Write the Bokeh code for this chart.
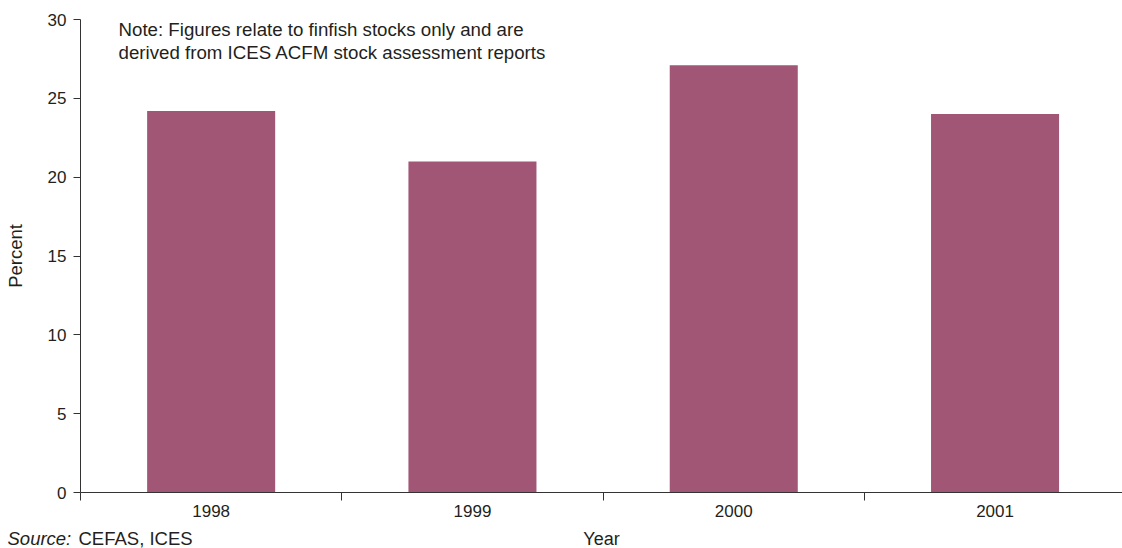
from bokeh.plotting import figure
from bokeh.models import Range1d, FixedTicker, Label
from bokeh.embed import file_html
from bokeh.resources import INLINE

# ---- data ----
years = [1998, 1999, 2000, 2001]
percent = [24.2, 21.0, 27.1, 24.0]
y_ticks = [0, 5, 10, 15, 20, 25, 30]
y_max = 30
note_lines = ["Note: Figures relate to finfish stocks only and are",
              "derived from ICES ACFM stock assessment reports"]
source_label = "Source:"
source_text = "CEFAS, ICES"

# ---- layout (pixels) ----
W, H = 1122, 548
AXIS_X_PX = 80          # where the y axis sits
TOP_PX = 19             # where y = 30 sits
ZERO_PX = 492           # where y = 0 sits
PX_PER_YEAR = 261.3
px_per_unit = (ZERO_PX - TOP_PX) / y_max

FONT = "Liberation Sans"
TXT = "#231f20"
AX = "#333333"
BAR = "#a15676"

x_lo = years[0] - 0.5
x_start = x_lo - AXIS_X_PX / PX_PER_YEAR
x_end = x_start + W / PX_PER_YEAR
y_end = y_max + TOP_PX / px_per_unit
y_start = -(H - ZERO_PX) / px_per_unit

p = figure(width=W, height=H, output_backend="svg", toolbar_location=None,
           x_range=Range1d(x_start, x_end), y_range=Range1d(y_start, y_end),
           min_border=0, min_border_left=0, min_border_right=0,
           min_border_top=0, min_border_bottom=0)
p.outline_line_color = None
p.grid.visible = False

p.vbar(x=years, top=percent, bottom=0, width=0.49, fill_color=BAR, line_color=None)

# x axis, pinned at y = 0
xa = p.xaxis[0]
xa.fixed_location = 0
xa.bounds = (x_lo, x_end)
xa.ticker = FixedTicker(ticks=years, minor_ticks=[y - 0.5 for y in years] + [years[-1] + 0.5])
xa.major_tick_line_color = None
xa.major_tick_out = 0
xa.major_tick_in = 0
xa.minor_tick_out = 8
xa.minor_tick_in = 0
xa.minor_tick_line_color = AX
xa.axis_line_color = AX
xa.major_label_standoff = 4
xa.major_label_text_font = FONT
xa.major_label_text_font_size = "17px"
xa.major_label_text_color = TXT
xa.axis_label = "Year"
xa.axis_label_text_font = FONT
xa.axis_label_text_font_size = "18px"
xa.axis_label_text_font_style = "normal"
xa.axis_label_text_color = TXT
xa.axis_label_standoff = 9

# y axis, pinned at the left category edge
ya = p.yaxis[0]
ya.fixed_location = x_lo
ya.bounds = (0, y_max)
ya.ticker = FixedTicker(ticks=y_ticks)
ya.major_tick_out = 7
ya.major_tick_in = 0
ya.minor_tick_line_color = None
ya.major_tick_line_color = AX
ya.axis_line_color = AX
ya.major_label_standoff = 7
ya.major_label_text_font = FONT
ya.major_label_text_font_size = "17px"
ya.major_label_text_color = TXT
ya.axis_label = "Percent"
ya.axis_label_text_font = FONT
ya.axis_label_text_font_size = "18.5px"
ya.axis_label_text_font_style = "normal"
ya.axis_label_text_color = TXT
ya.axis_label_standoff = 19

# note (screen units: from frame bottom-left, frame = whole canvas)
for i, line in enumerate(note_lines):
    p.add_layout(Label(x=118, y=H - 29 - 23 * i, x_units="screen", y_units="screen",
                       text=line, text_font=FONT, text_font_size="18.7px",
                       text_color=TXT, text_baseline="alphabetic", text_align="left"))

# source
p.add_layout(Label(x=7, y=H - 538, x_units="screen", y_units="screen",
                   text=source_label, text_font=FONT, text_font_size="18.5px",
                   text_font_style="italic", text_color=TXT,
                   text_baseline="middle", text_align="left"))
p.add_layout(Label(x=78, y=H - 538, x_units="screen", y_units="screen",
                   text=source_text, text_font=FONT, text_font_size="18.5px",
                   text_color=TXT, text_baseline="middle", text_align="left"))

open("out.html", "w").write(file_html(p, INLINE))
